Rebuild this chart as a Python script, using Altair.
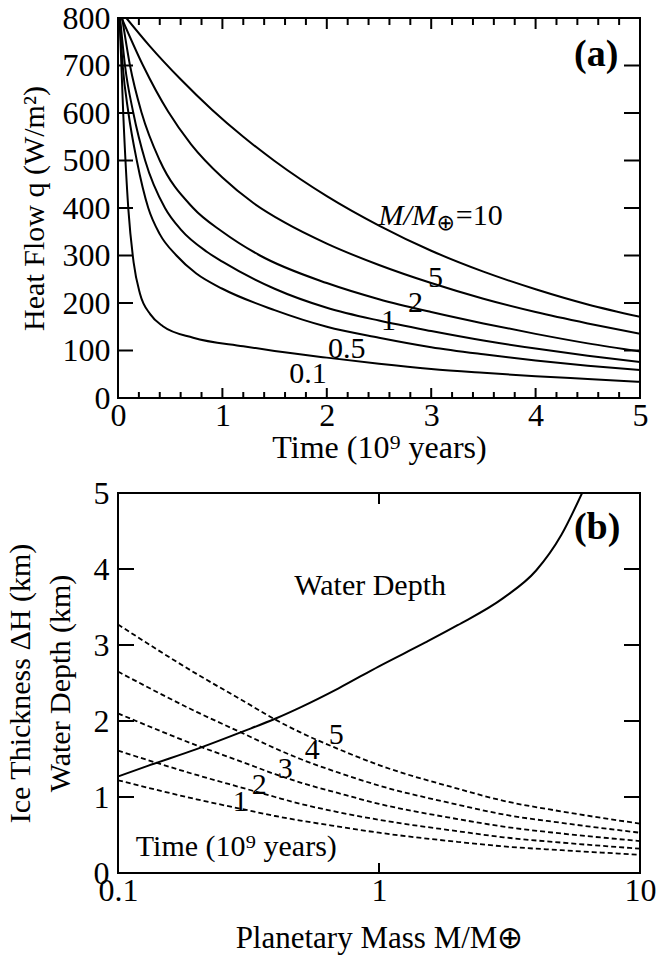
import altair as alt
import pandas as pd

FONT = "Liberation Serif"

# ---------------- Panel (a): heat flow vs time ----------------
mass_labels = ["0.1", "0.5", "1", "2", "5", "10"]
t_01 = [0.015, 0.05, 0.1, 0.15, 0.21, 0.31, 0.43, 0.72, 1.2, 1.5, 2.0, 2.5, 3.0, 3.5, 4.0, 4.5, 5.0]
q_01 = [800, 600, 395, 285, 220, 176, 151, 127, 109, 99, 85, 72, 61, 53, 46, 40, 34]
t_05 = [0.015, 0.045, 0.1, 0.18, 0.29, 0.4, 0.56, 0.75, 1.0, 1.5, 2.0, 2.5, 3.0, 3.5, 4.0, 4.5, 5.0]
q_05 = [800, 700, 600, 500, 400, 345, 300, 262, 230, 185, 150, 127, 107, 92, 79, 68, 59]
t_1 = [0.02, 0.067, 0.147, 0.26, 0.45, 0.6, 0.85, 1.0, 1.5, 2.0, 2.5, 3.0, 3.5, 4.0, 4.5, 5.0]
q_1 = [800, 700, 600, 500, 400, 355, 308, 287, 230, 190, 163, 141, 121, 104, 89, 76]
t_2 = [0.04, 0.115, 0.227, 0.40, 0.72, 1.0, 1.36, 2.0, 2.5, 3.0, 3.5, 4.0, 4.5, 5.0]
q_2 = [800, 700, 600, 500, 400, 350, 300, 242, 208, 181, 157, 135, 115, 98]
t_5 = [0.035, 0.24, 0.48, 0.7, 1.0, 1.3, 1.6, 2.0, 2.5, 3.0, 3.5, 4.0, 4.5, 5.0]
q_5 = [800, 700, 603, 534, 464, 410, 369, 325, 280, 242, 209, 181, 157, 135]
t_10 = [0.08, 0.3, 0.6, 0.9, 1.2, 1.5, 2.0, 2.5, 3.0, 3.5, 4.0, 4.5, 5.0]
q_10 = [800, 742, 671, 607, 550, 499, 425, 363, 310, 266, 229, 197, 171]

series_a = [t_01, t_05, t_1, t_2, t_5, t_10]
values_a = [q_01, q_05, q_1, q_2, q_5, q_10]

rows = []
for lab, ts, qs in zip(mass_labels, series_a, values_a):
    for t, q in zip(ts, qs):
        rows.append({"mass": lab, "t": t, "q": q})
df_a = pd.DataFrame(rows)

# curve labels (text, t, q)
lab_a_text = ["5", "2", "1", "0.5", "0.1"]
lab_a_t = [3.04, 2.85, 2.59, 2.19, 1.82]
lab_a_q = [253, 200, 162, 103, 51]
df_lab_a = pd.DataFrame({"text": lab_a_text, "t": lab_a_t, "q": lab_a_q})

# tick positions
a_major_x = [0, 1, 2, 3, 4, 5]
a_minor_x = [0.2, 0.4, 0.6, 0.8, 1.2, 1.4, 1.6, 1.8, 2.2, 2.4, 2.6, 2.8,
             3.2, 3.4, 3.6, 3.8, 4.2, 4.4, 4.6, 4.8]
a_label_y = [0, 100, 200, 300, 400, 500, 600, 700, 800]
a_major_y = [100, 200, 300, 400, 500, 600, 700]

# ---------------- Panel (b): thickness vs planetary mass ----------------
m_water = [0.1, 0.13, 0.2, 0.3, 0.4, 0.5, 0.7, 1.0, 1.5, 2.0, 3.0, 4.0, 5.0, 6.0]
d_water = [1.27, 1.41, 1.63, 1.86, 2.03, 2.18, 2.43, 2.72, 3.03, 3.26, 3.62, 3.98, 4.45, 5.0]

m_ice = [0.1, 0.2, 0.3, 0.4, 0.5, 0.7, 1.0, 2.0, 3.0, 5.0, 10.0]
ice_times = ["1", "2", "3", "4", "5"]
ice_1 = [1.22, 0.97, 0.84, 0.75, 0.69, 0.61, 0.53, 0.41, 0.35, 0.30, 0.24]
ice_2 = [1.61, 1.29, 1.12, 1.00, 0.91, 0.80, 0.70, 0.55, 0.47, 0.40, 0.32]
ice_3 = [2.10, 1.68, 1.46, 1.30, 1.19, 1.05, 0.91, 0.71, 0.61, 0.52, 0.42]
ice_4 = [2.65, 2.12, 1.84, 1.64, 1.50, 1.32, 1.15, 0.90, 0.77, 0.66, 0.53]
ice_5 = [3.27, 2.62, 2.27, 2.02, 1.85, 1.63, 1.42, 1.11, 0.95, 0.81, 0.65]

df_water = pd.DataFrame({"m": m_water, "h": d_water})
rows = []
for lab, hs in zip(ice_times, [ice_1, ice_2, ice_3, ice_4, ice_5]):
    for m, h in zip(m_ice, hs):
        rows.append({"time": lab, "m": m, "h": h})
df_ice = pd.DataFrame(rows)

lab_b_text = ["5", "4", "3", "2", "1"]
lab_b_m = [0.686, 0.555, 0.437, 0.348, 0.294]
lab_b_h = [1.82, 1.62, 1.37, 1.16, 0.93]
df_lab_b = pd.DataFrame({"text": lab_b_text, "m": lab_b_m, "h": lab_b_h})

b_label_x = [0.1, 1, 10]
b_label_y = [0, 1, 2, 3, 4, 5]
b_major_x = [1]
b_major_y = [1, 2, 3, 4]

W, H = 522, 380
LBL = 32

# ---------------- build panel (a) ----------------
xa = alt.X("t:Q", scale=alt.Scale(domain=[0, 5], nice=False, zero=False),
           axis=alt.Axis(values=a_major_x, format="d", title="Time (10⁹ years)",
                         ticks=False, domain=False, grid=False, labelFlush=False,
                         labelOverlap=False, labelPadding=2, titleFontSize=32,
                         titleY=59, titleBaseline="alphabetic"))
ya = alt.Y("q:Q", scale=alt.Scale(domain=[0, 800], nice=False),
           axis=alt.Axis(values=a_label_y, format="d",
                         title="Heat Flow  q (W/m²)", ticks=False, domain=False,
                         grid=False, labelFlush=False, labelOverlap=False,
                         labelPadding=8, titlePadding=13, titleFontSize=30))

lines_a = alt.Chart(df_a).mark_line(color="black", strokeWidth=2, clip=True,
                                    interpolate="monotone").encode(
    x=xa, y=ya, detail="mass:N", order="t:Q")

df_ax_major = pd.DataFrame({"t": a_major_x})
df_ax_minor = pd.DataFrame({"t": a_minor_x})
df_ay = pd.DataFrame({"q": a_major_y})

tick_style = dict(color="black", strokeWidth=2)
ticks_a = [
    alt.Chart(df_ax_major).mark_rule(**tick_style).encode(
        x="t:Q", y=alt.value(H), y2=alt.value(H - 10)),
    alt.Chart(df_ax_major).mark_rule(**tick_style).encode(
        x="t:Q", y=alt.value(0), y2=alt.value(11)),
    alt.Chart(df_ax_minor).mark_rule(**tick_style).encode(
        x="t:Q", y=alt.value(H), y2=alt.value(H - 6)),
    alt.Chart(df_ax_minor).mark_rule(**tick_style).encode(
        x="t:Q", y=alt.value(0), y2=alt.value(7)),
    alt.Chart(df_ay).mark_rule(**tick_style).encode(
        y="q:Q", x=alt.value(0), x2=alt.value(15)),
    alt.Chart(df_ay).mark_rule(**tick_style).encode(
        y="q:Q", x=alt.value(W), x2=alt.value(W - 16)),
]

labels_a = alt.Chart(df_lab_a).mark_text(font=FONT, fontSize=30, color="black").encode(
    x="t:Q", y="q:Q", text="text:N")

df_pa = pd.DataFrame({"t": [4.58], "q": [722]})
panel_a_lab = alt.Chart(df_pa).mark_text(font=FONT, fontSize=38, fontWeight="bold",
                                         color="black").encode(
    x="t:Q", y="q:Q", text=alt.value("(a)"))

df_ml = pd.DataFrame({"t": [3.14], "q": [383]})
mlab1 = alt.Chart(df_ml).mark_text(font=FONT, fontSize=30, fontStyle="italic",
                                   align="right", dx=-9, color="black").encode(
    x="t:Q", y="q:Q", text=alt.value("M/M"))
mlab2 = alt.Chart(df_ml).mark_text(font="DejaVu Sans", fontSize=22, align="center",
                                   dy=7, color="black").encode(
    x="t:Q", y="q:Q", text=alt.value("⊕"))
mlab3 = alt.Chart(df_ml).mark_text(font=FONT, fontSize=30, align="left", dx=10,
                                   color="black").encode(
    x="t:Q", y="q:Q", text=alt.value("=10"))

panel_a = alt.layer(lines_a, *ticks_a, labels_a, panel_a_lab, mlab1, mlab2, mlab3
                    ).properties(width=W, height=H)

# ---------------- build panel (b) ----------------
xb = alt.X("m:Q", scale=alt.Scale(type="log", domain=[0.1, 10], nice=False),
           axis=alt.Axis(values=b_label_x, format="~g",
                         title="Planetary Mass  M/M⊕", ticks=False, domain=False,
                         grid=False, labelFlush=False, labelOverlap=False,
                         labelPadding=2, titleFontSize=31,
                         titleY=74, titleBaseline="alphabetic"))
yb = alt.Y("h:Q", scale=alt.Scale(domain=[0, 5], nice=False),
           axis=alt.Axis(values=b_label_y, format="d",
                         title=["Ice Thickness  ΔH (km)", "Water Depth (km)"],
                         ticks=False, domain=False, grid=False, labelFlush=False,
                         labelOverlap=False, labelPadding=9, titlePadding=18,
                         titleFontSize=30, titleLineHeight=40))

water = alt.Chart(df_water).mark_line(color="black", strokeWidth=2, clip=True,
                                      interpolate="monotone").encode(x=xb, y=yb)
ice = alt.Chart(df_ice).mark_line(color="black", strokeWidth=1.8, clip=True,
                                  strokeDash=[5, 3], interpolate="monotone").encode(
    x="m:Q", y="h:Q", detail="time:N", order="m:Q")

df_bx = pd.DataFrame({"m": b_major_x})
df_by = pd.DataFrame({"h": b_major_y})
ticks_b = [
    alt.Chart(df_bx).mark_rule(**tick_style).encode(
        x="m:Q", y=alt.value(H), y2=alt.value(H - 10)),
    alt.Chart(df_bx).mark_rule(**tick_style).encode(
        x="m:Q", y=alt.value(0), y2=alt.value(11)),
    alt.Chart(df_by).mark_rule(**tick_style).encode(
        y="h:Q", x=alt.value(0), x2=alt.value(16)),
    alt.Chart(df_by).mark_rule(**tick_style).encode(
        y="h:Q", x=alt.value(W), x2=alt.value(W - 16)),
]

labels_b = alt.Chart(df_lab_b).mark_text(font=FONT, fontSize=30, color="black").encode(
    x="m:Q", y="h:Q", text="text:N")

note_text = ["(b)", "Water Depth", "Time (10⁹ years)"]
note_m = [6.85, 0.925, 0.284]
note_h = [4.54, 3.78, 0.34]
df_notes = pd.DataFrame({"text": note_text, "m": note_m, "h": note_h})
notes_b = [
    alt.Chart(df_notes.iloc[[0]]).mark_text(font=FONT, fontSize=38, fontWeight="bold",
                                            color="black").encode(
        x="m:Q", y="h:Q", text="text:N"),
    alt.Chart(df_notes.iloc[[1, 2]]).mark_text(font=FONT, fontSize=30,
                                               color="black").encode(
        x="m:Q", y="h:Q", text="text:N"),
]

panel_b = alt.layer(water, ice, *ticks_b, labels_b, *notes_b).properties(width=W, height=H)

chart = alt.vconcat(panel_a, panel_b, spacing=12).properties(
    padding={"left": 4, "top": 1, "right": 3, "bottom": 2},
    background="white",
).configure_view(stroke="black", strokeWidth=2).configure_axis(
    labelFont=FONT, titleFont=FONT, labelFontSize=LBL, titleFontSize=30,
    titleFontWeight="normal", labelColor="black", titleColor="black",
)

chart.save("out.html", embed_options={"renderer": "svg", "actions": False})
